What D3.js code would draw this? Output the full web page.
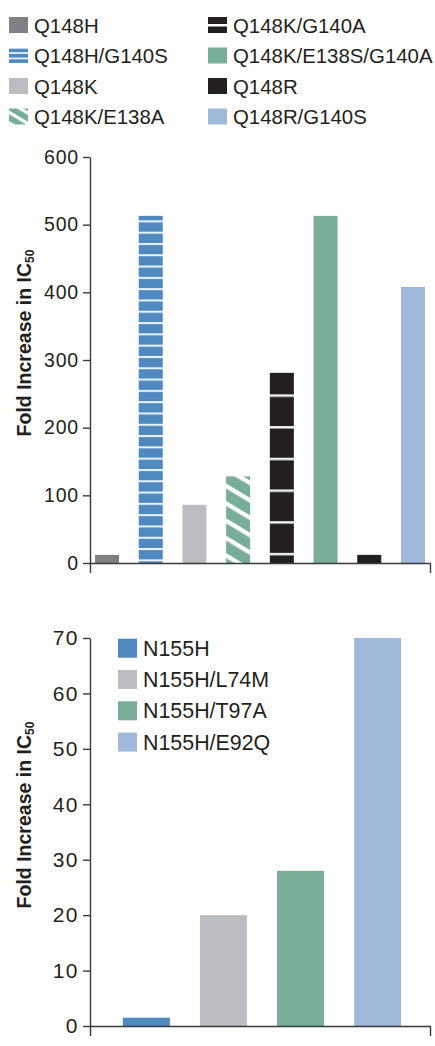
<!DOCTYPE html>
<html>
<head>
<meta charset="utf-8">
<script src="https://cdn.jsdelivr.net/npm/d3@7"></script>
<style>
  body { margin: 0; background: #fff; }
  svg { display: block; font-family: "Liberation Sans", Arial, sans-serif; }
</style>
</head>
<body>
<svg id="chart" width="435" height="1046"></svg>
<script>
// top panel: Q148 pathway
const topCategories = ['Q148H', 'Q148H/G140S', 'Q148K', 'Q148K/E138A', 'Q148K/G140A', 'Q148K/E138S/G140A', 'Q148R', 'Q148R/G140S'];
const topValues = [12, 513, 86, 128, 281, 513, 12, 408];
const topTicks = [0, 100, 200, 300, 400, 500, 600];

// bottom panel: N155 pathway
const bottomCategories = ['N155H', 'N155H/L74M', 'N155H/T97A', 'N155H/E92Q'];
const bottomValues = [1.5, 20, 28, 70];
const bottomTicks = [0, 10, 20, 30, 40, 50, 60, 70];

const ink = '#231f20';
const topFills = ['#7f8083', 'url(#hstripe)', '#bcbdc0', 'url(#diag)', 'url(#blackband)', '#78ae98', ink, '#a0b9da'];
const topSwatch = ['#7f8083', 'url(#hstripeS)', '#bcbdc0', 'url(#diagS)', 'url(#blackbandS)', '#78ae98', ink, '#a0b9da'];
const bottomFills = ['#4f89c0', '#bcbdc0', '#78ae98', '#a0b9da'];

const svg = d3.select('#chart');
const defs = svg.append('defs');

const yTop = d3.scaleLinear().domain([0, 600]).range([563, 157]);
const xTop = d3.scaleBand().domain(topCategories).range([90, 430]).paddingInner(0.45).paddingOuter(0.115);

const yBot = d3.scaleLinear().domain([0, 70]).range([1026, 638]);
const xBot = d3.scaleBand().domain(bottomCategories).range([92, 432]).paddingInner(0.39).paddingOuter(0.4);

// patterns
function stripes(id, y0, period, band, bg, fg) {
  const p = defs.append('pattern').attr('id', id).attr('patternUnits', 'userSpaceOnUse')
    .attr('x', 0).attr('y', y0).attr('width', 40).attr('height', period);
  p.append('rect').attr('width', 40).attr('height', period).attr('fill', bg);
  p.append('rect').attr('width', 40).attr('height', band).attr('fill', fg);
}
stripes('hstripe', yTop(513) + 4.5, 11.3, 2, '#4f89c0', '#eef3f8');
stripes('blackband', yTop(281) + 21.5, 31.7, 2.5, ink, '#f0f0f0');
stripes('hstripeS', 36.5 - 16, 5.3, 1.6, '#4f89c0', '#ffffff');
stripes('blackbandS', 16.5 + 7.5, 40, 2.5, ink, '#ffffff');

function diag(id, period, band) {
  const p = defs.append('pattern').attr('id', id).attr('patternUnits', 'userSpaceOnUse')
    .attr('width', 20).attr('height', period).attr('patternTransform', 'rotate(31)');
  p.append('rect').attr('width', 20).attr('height', period).attr('fill', '#78ae98');
  p.append('rect').attr('width', 20).attr('height', band).attr('fill', '#ffffff');
}
diag('diag', 14.9, 4.3);
diag('diagS', 9, 3.2);

// ---- top chart ----
const gTop = svg.append('g');

gTop.selectAll('rect.bar').data(topValues).join('rect')
  .attr('class', 'bar')
  .attr('x', (d, i) => xTop(topCategories[i]))
  .attr('width', xTop.bandwidth())
  .attr('y', d => yTop(d))
  .attr('height', d => yTop(0) - yTop(d))
  .attr('fill', (d, i) => topFills[i]);

function styleAxis(g, size, spacing) {
  g.selectAll('path, line').attr('stroke', '#3a3a3a').attr('stroke-width', 1.4);
  g.selectAll('text').attr('fill', ink).attr('font-size', size).attr('letter-spacing', spacing)
    .attr('font-family', '"Liberation Sans", Arial, sans-serif');
}

gTop.append('g').attr('transform', 'translate(90,0)')
  .call(d3.axisLeft(yTop).tickValues(topTicks).tickSize(7).tickSizeOuter(0).tickPadding(4))
  .call(g => styleAxis(g, 19.5, 0.8));

gTop.append('g').attr('transform', `translate(0,${yTop(0)})`)
  .call(d3.axisBottom(d3.scaleLinear().range([90, 430])).tickValues([]).tickSizeOuter(10))
  .call(g => styleAxis(g, 19.5, 0.8));

// top legend
const legTop = svg.append('g');
topCategories.forEach((c, i) => {
  const col = Math.floor(i / 4), row = i % 4;
  const bx = col ? 208 : 9, by = 32.5 + row * 30.5;
  legTop.append('rect').attr('x', bx).attr('y', by - 15.5).attr('width', 19).attr('height', 16)
    .attr('fill', topSwatch[i]);
  legTop.append('text').attr('x', bx + 25).attr('y', by).attr('fill', ink)
    .attr('font-size', 20.4).text(c);
});

// ---- bottom chart ----
const gBot = svg.append('g');

gBot.selectAll('rect.bar').data(bottomValues).join('rect')
  .attr('class', 'bar')
  .attr('x', (d, i) => xBot(bottomCategories[i]))
  .attr('width', xBot.bandwidth())
  .attr('y', d => yBot(d))
  .attr('height', d => yBot(0) - yBot(d))
  .attr('fill', (d, i) => bottomFills[i]);

gBot.append('g').attr('transform', 'translate(90,0)')
  .call(d3.axisLeft(yBot).tickValues(bottomTicks).tickSize(7).tickSizeOuter(0).tickPadding(4))
  .call(g => styleAxis(g, 21, 1.5));

gBot.append('g').attr('transform', `translate(0,${yBot(0)})`)
  .call(d3.axisBottom(d3.scaleLinear().range([90, 430])).tickValues([]).tickSizeOuter(10))
  .call(g => styleAxis(g, 21, 1.5));

const legBot = svg.append('g');
bottomCategories.forEach((c, i) => {
  const by = 655.7 + i * 31.3;
  legBot.append('rect').attr('x', 118).attr('y', by - 17).attr('width', 19).attr('height', 19)
    .attr('fill', bottomFills[i]);
  legBot.append('text').attr('x', 143).attr('y', by).attr('fill', ink)
    .attr('font-size', 21.4).text(c);
});

// y axis titles
function yTitle(cy) {
  const t = svg.append('text')
    .attr('transform', `translate(31,${cy}) rotate(-90)`)
    .attr('text-anchor', 'middle')
    .attr('font-weight', 'bold').attr('font-size', 19.5).attr('fill', ink);
  t.append('tspan').text('Fold Increase in IC');
  t.append('tspan').attr('font-size', 12).attr('dy', 3).text('50');
}
yTitle(343);
yTitle(815);
</script>
</body>
</html>
